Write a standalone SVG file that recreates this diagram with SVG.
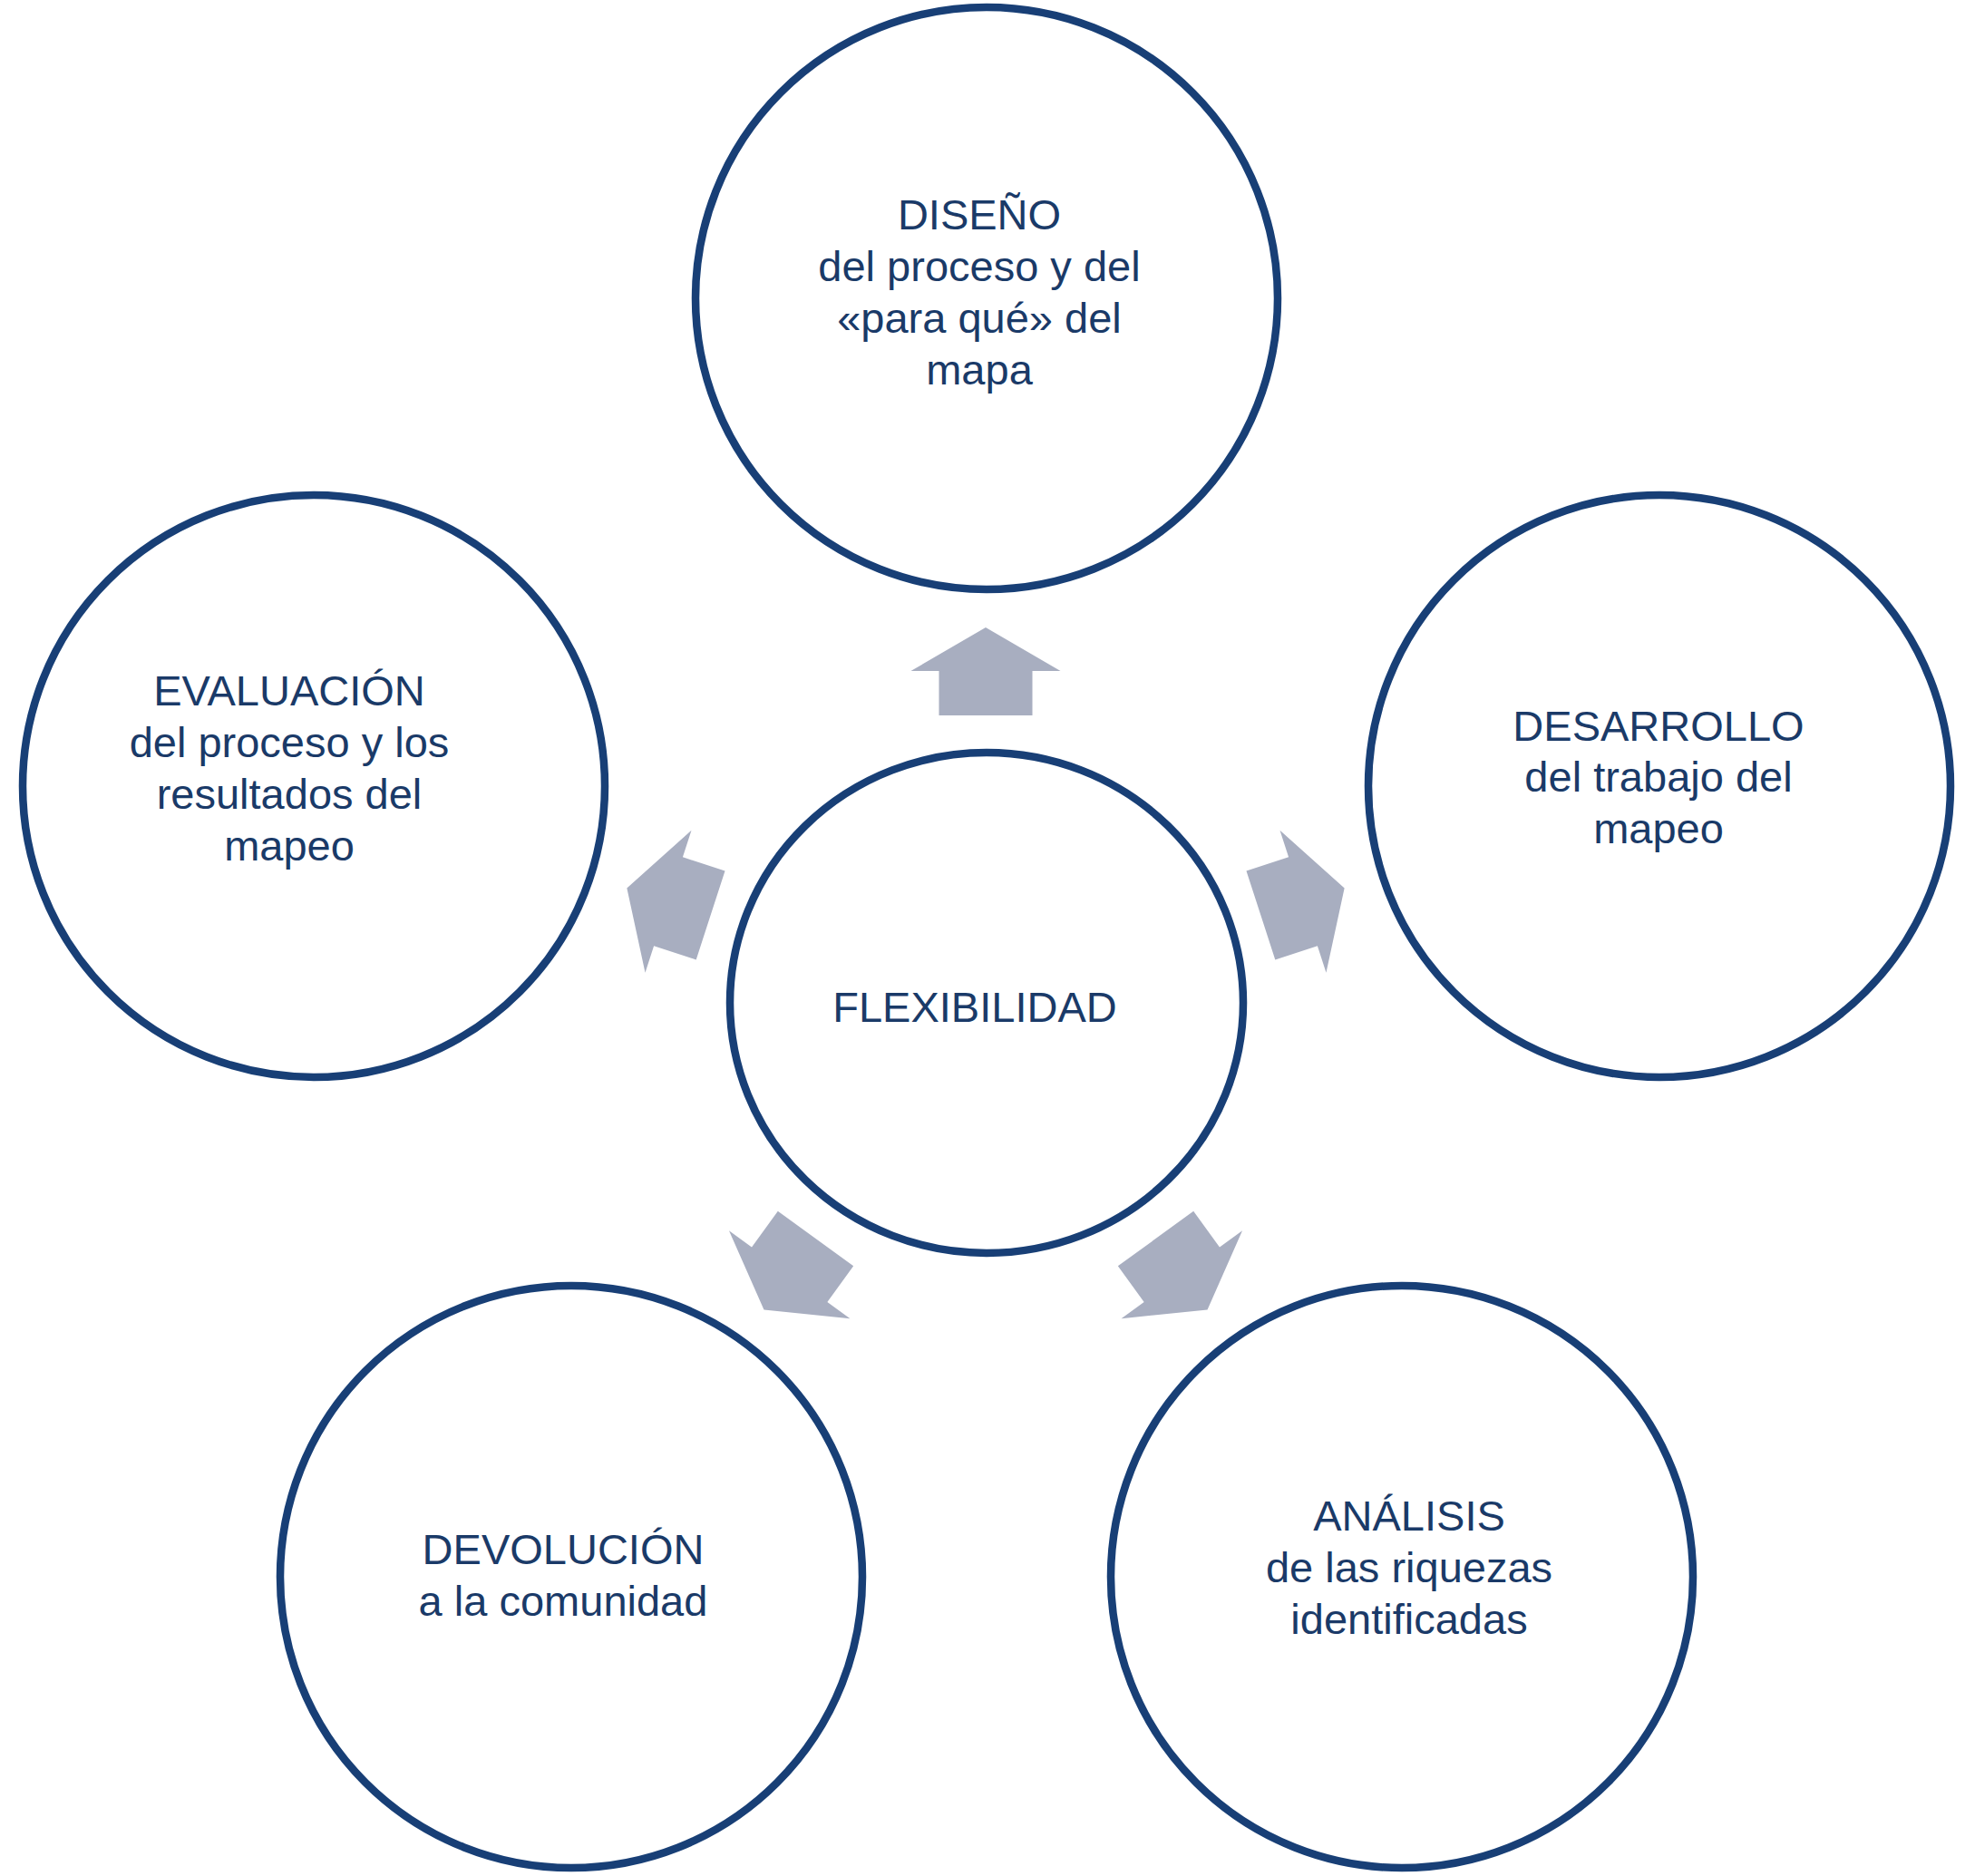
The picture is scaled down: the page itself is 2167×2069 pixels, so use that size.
<svg xmlns="http://www.w3.org/2000/svg" xmlns:xlink="http://www.w3.org/1999/xlink" width="2167" height="2069" viewBox="0 0 2167 2069">
<style>
.ring{fill:#ffffff;stroke:#183f76;stroke-width:8.5}
.lbl{font-family:"Liberation Sans",Arial,sans-serif;font-size:47px;fill:#1a3a68;text-anchor:middle}
.arr{fill:#a8aec0}
</style>
<defs>
<path id="arrow" class="arr" d="M1087 692 L1169.5 740 L1138.5 740 L1138.5 789 L1035.5 789 L1035.5 740 L1004.5 740 Z"/>
</defs>
<rect width="2167" height="2069" fill="#ffffff"/>
<g id="connectors">
<use xlink:href="#arrow" href="#arrow"/>
<use xlink:href="#arrow" href="#arrow" transform="rotate(72 1087 1108)"/>
<use xlink:href="#arrow" href="#arrow" transform="rotate(144 1087 1108)"/>
<use xlink:href="#arrow" href="#arrow" transform="rotate(216 1087 1108)"/>
<use xlink:href="#arrow" href="#arrow" transform="rotate(288 1087 1108)"/>
</g>
<g id="node-diseno">
<circle class="ring" cx="1088" cy="329" r="321"/>
<text class="lbl" x="1080" y="253">DISEÑO</text>
<text class="lbl" x="1080" y="310">del proceso y del</text>
<text class="lbl" x="1080" y="367">«para qué» del</text>
<text class="lbl" x="1080" y="424">mapa</text>
</g>
<g id="node-desarrollo">
<circle class="ring" cx="1830" cy="867" r="321"/>
<text class="lbl" x="1829" y="817">DESARROLLO</text>
<text class="lbl" x="1829" y="873">del trabajo del</text>
<text class="lbl" x="1829" y="930">mapeo</text>
</g>
<g id="node-analisis">
<circle class="ring" cx="1546" cy="1739" r="321"/>
<text class="lbl" x="1554" y="1688">ANÁLISIS</text>
<text class="lbl" x="1554" y="1745">de las riquezas</text>
<text class="lbl" x="1554" y="1802">identificadas</text>
</g>
<g id="node-devolucion">
<circle class="ring" cx="630" cy="1739" r="321"/>
<text class="lbl" x="621" y="1725">DEVOLUCIÓN</text>
<text class="lbl" x="621" y="1782">a la comunidad</text>
</g>
<g id="node-evaluacion">
<circle class="ring" cx="346" cy="867" r="321"/>
<text class="lbl" x="319" y="778">EVALUACIÓN</text>
<text class="lbl" x="319" y="835">del proceso y los</text>
<text class="lbl" x="319" y="892">resultados del</text>
<text class="lbl" x="319" y="949">mapeo</text>
</g>
<g id="node-flexibilidad">
<ellipse class="ring" cx="1088" cy="1106" rx="283" ry="276"/>
<text class="lbl" x="1075" y="1127">FLEXIBILIDAD</text>
</g>
</svg>
